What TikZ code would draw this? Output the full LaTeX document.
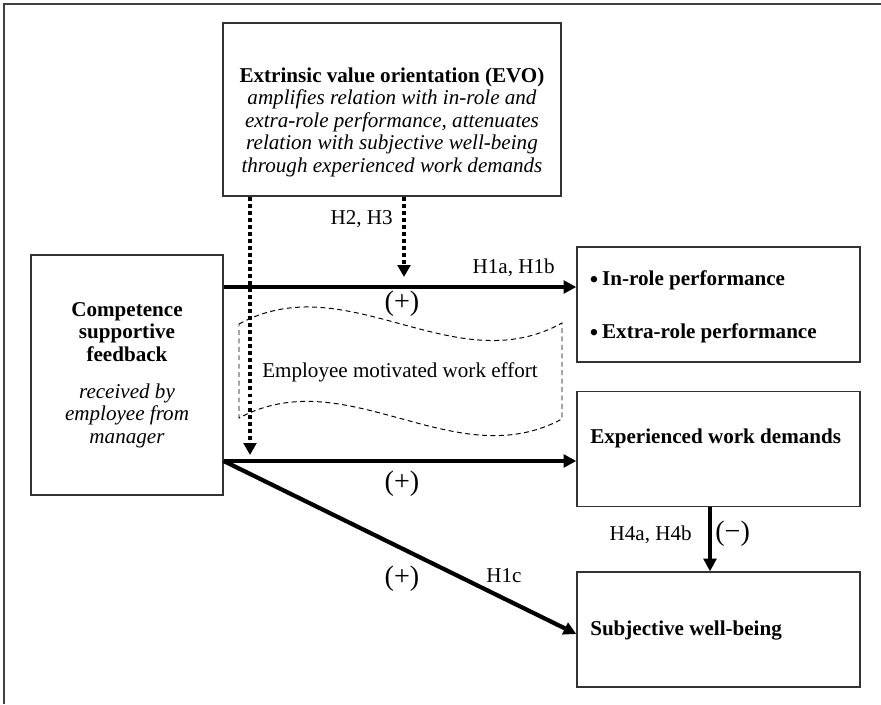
\documentclass[tikz,border=0pt]{standalone}
\usepackage{fontspec}
\setmainfont{Liberation Serif}
\usetikzlibrary{arrows.meta}

\newcommand{\bigbul}{\raisebox{-2.5pt}{\fontsize{19}{19}\selectfont\textbullet}\hspace{2.5pt}}

\begin{document}
\begin{tikzpicture}[x=0.025cm, y=-0.025cm,
    font=\fontsize{15}{16}\selectfont,
    box/.style={draw=black!80, line width=0.9pt, inner sep=0pt, minimum width=7.075cm, minimum height=2.875cm},
    txt/.style={inner sep=0pt, anchor=base west},
    lbl/.style={inner sep=0pt},
    sign/.style={inner sep=0pt, font=\fontsize{20}{22}\selectfont},
    arr/.style={line width=3pt, -{Triangle[length=9pt, width=9pt]}},
    dotarr/.style={line width=2.8pt, dash pattern=on 2.8pt off 2.2pt, -{Triangle[length=8.5pt, width=9pt]}}
  ]
  \useasboundingbox (0,0) rectangle (881,704);
  \draw[line width=1pt, black!75] (4,704) -- (4,4) -- (881,4);

  \node[box, minimum width=8.45cm, minimum height=4.325cm] (evo) at (392,109.5) {};
  \node[lbl, align=center] (evotext) at (392,122) {\textbf{Extrinsic value orientation (EVO)}\\
    \textit{amplifies relation with in-role and}\\
    \textit{extra-role performance, attenuates}\\
    \textit{relation with subjective well-being}\\
    \textit{through experienced work demands}};

  \node[box, minimum width=4.8cm, minimum height=6cm, align=center] (fb) at (127,375) {\textbf{Competence}\\
    \textbf{supportive}\\
    \textbf{feedback}\\[10pt]
    \textit{received by}\\
    \textit{employee from}\\
    \textit{manager}};

  \node[box] (perf) at (718.5,304.5) {};
  \node[box] (wd) at (718.5,449) {};
  \node[box] (sw) at (718.5,629.5) {};
  \node[txt] (inrole) at (589,285) {\bigbul\textbf{In-role performance}};
  \node[txt] (extrarole) at (589,338) {\bigbul\textbf{Extra-role performance}};
  \node[txt] (wdtext) at (590,443) {\textbf{Experienced work demands}};
  \node[txt] (swtext) at (590,635) {\textbf{Subjective well-being}};

  \draw[line width=0.7pt, dash pattern=on 3.5pt off 2.5pt] (239,324) .. controls (347,265) and (454,383) .. (562,323) -- (562,419) .. controls (454,477) and (347,360) .. (239,418) -- cycle;
  \node[lbl] (effort) at (400,372) {Employee motivated work effort};

  \draw[arr] (fb.east |- 0,287) -- (perf.west |- 0,287);
  \node[lbl, anchor=base east] (h1ab) at (555,273) {H1a, H1b};
  \node[sign] (p1) at (402,304) {(+)};
  \draw[arr] (fb.east |- 0,461) -- (wd.west |- 0,461);
  \node[sign] (p2) at (402,483.5) {(+)};
  \draw[arr] (fb.east |- 0,461) -- (sw.west |- 0,634);
  \node[sign] (p3) at (402,578.5) {(+)};
  \node[lbl, anchor=base] (h1c) at (504,582) {H1c};
  \draw[arr] (wd.south -| 710,0) -- (sw.north -| 710,0);
  \node[lbl, anchor=base east] (h4) at (692,540) {H4a, H4b};
  \node[sign, anchor=west] (m4) at (715,534) {(−)};

  \coordinate (c1) at (250,455);
  \coordinate (c2) at (404,277);
  \draw[dotarr] (evo.south -| c1) -- (c1);
  \draw[dotarr] (evo.south -| c2) -- (c2);
  \node[lbl, anchor=base east] (h23) at (393,224) {H2, H3};
\end{tikzpicture}
\end{document}
